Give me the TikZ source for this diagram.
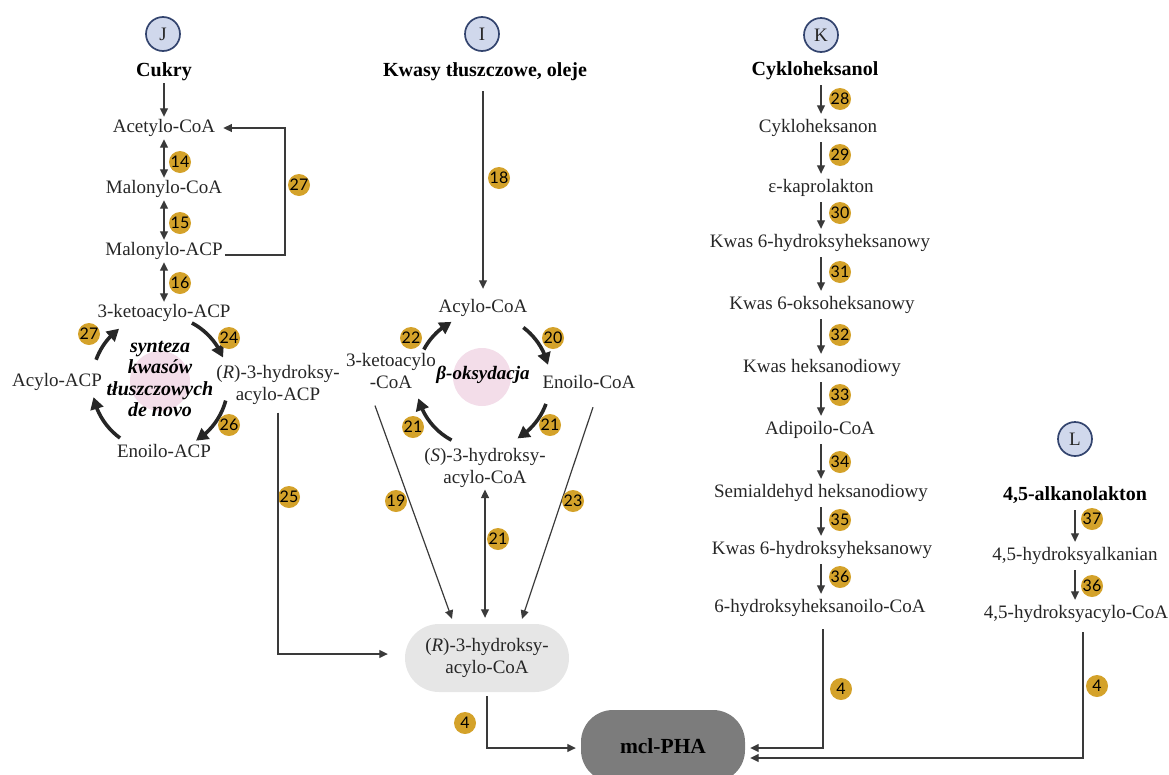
\documentclass[tikz,border=0pt]{standalone}
\usepackage{fontspec}
\setmainfont{Liberation Serif}
\newfontfamily\badgefont{Lato}
\usetikzlibrary{arrows.meta,bending,calc}
\definecolor{txt}{HTML}{262626}
\definecolor{ln}{HTML}{3A3A3A}
\definecolor{gold}{HTML}{D4A22A}
\definecolor{lblfill}{HTML}{D0D8EC}
\definecolor{lbldraw}{HTML}{33446E}
\definecolor{pinkc}{HTML}{F3DDE9}
\definecolor{boxgray}{HTML}{E6E6E6}
\definecolor{phagray}{HTML}{7C7C7C}
\definecolor{cycc}{HTML}{262626}
\newcommand{\mfs}{\fontsize{19}{21.5}\selectfont}
\newcommand{\bfs}{\fontsize{20}{21.5}\selectfont}
\begin{document}
\begin{tikzpicture}[x=1pt,y=-1pt,
  every node/.style={text=txt},
  met/.style={font=\mfs, inner sep=2pt, text height=13.5pt, text depth=4.5pt},
  mettwo/.style={font=\mfs, inner sep=2pt, align=center},
  src/.style={font=\bfseries\bfs, text=black, inner sep=2pt, text height=13.5pt, text depth=4.5pt},
  badge/.style={circle, fill=gold, inner sep=0pt, minimum size=22pt, font=\badgefont\fontsize{16}{16}\selectfont, text=black},
  pathlbl/.style={circle, fill=lblfill, draw=lbldraw, line width=1.7pt, minimum size=34pt, inner sep=0pt, font=\mfs, text=txt},
  arr/.style={draw=ln, line width=1.2pt, -{Triangle[length=8.5pt,width=8pt]}},
  darr/.style={draw=ln, line width=1.2pt, {Triangle[length=8.5pt,width=8pt]}-{Triangle[length=8.5pt,width=8pt]}},
  cyc/.style={draw=cycc, line width=3.6pt, -{Triangle[length=12pt,width=13pt]}},
  cyctext/.style={font=\bfseries\itshape\bfs, text=black, align=center, inner sep=0pt},
]
\useasboundingbox (0,0) rectangle (1169,774);
\clip (0,0) rectangle (1169,774);
\coordinate (c1) at (160,383);
\coordinate (c2) at (483,381);
\coordinate (p1) at (160,381);
\coordinate (p2) at (482,377);
\fill[pinkc] (p1) circle[radius=30];
\fill[pinkc] (p2) circle[radius=29];

% ---------- J column ----------
\node[pathlbl] (J) at (163,34) {J};
\node[src] (cukry) at (164,72) {Cukry};
\node[met] (acoa) at (164,128) {Acetylo-CoA};
\node[met] (mcoa) at (164,189) {Malonylo-CoA};
\node[met] (macp) at (164,251) {Malonylo-ACP};
\node[met] (kacp) at (164,313) {3-ketoacylo-ACP};
\node[met] (aacp) at (57,382) {Acylo-ACP};
\node[met] (eacp) at (164,453) {Enoilo-ACP};
\node[mettwo] (racp) at (278,385) {(\textit{R})-3-hydroksy-\\acylo-ACP};
\node[cyctext] (fas) at (160,379) {synteza\\kwasów\\tłuszczowych\\de novo};

\draw[arr] (cukry) -- (acoa);
\draw[darr] (acoa) -- (mcoa);
\draw[darr] (mcoa) -- (macp);
\draw[darr] (macp) -- (kacp);
\coordinate (fb) at (285,190);
\draw[arr] ([yshift=-4pt]macp.east) -| (fb) |- ([xshift=6pt]acoa.east);

\draw[cyc] ($(c1)+(-62:68)$) arc[start angle=-62, end angle=-22, radius=68];
\draw[cyc] ($(c1)+(15:68)$) arc[start angle=15, end angle=58, radius=68];
\draw[cyc] ($(c1)+(126:68)$) arc[start angle=126, end angle=168, radius=68];
\draw[cyc] ($(c1)+(-160:68)$) arc[start angle=-160, end angle=-127, radius=68];

\node[badge] (b14) at (180,162) {14};
\node[badge] (b15) at (180,223) {15};
\node[badge] (b16) at (180,283) {16};
\node[badge] (b27a) at (299,185) {27};
\node[badge] (b24) at (229,338) {24};
\node[badge] (b26) at (229,425) {26};
\node[badge] (b27b) at (89,334) {27};
\node[badge] (b25) at (289,497) {25};

% ---------- I column ----------
\node[pathlbl] (I) at (482,34) {I};
\node[src] (fat) at (485,72) {Kwasy tłuszczowe, oleje};
\node[met] (acoaI) at (483,308) {Acylo-CoA};
\node[mettwo] (kcoa) at (391,371) {3-ketoacylo\\-CoA};
\node[met] (ecoa) at (589,384) {Enoilo-CoA};
\node[mettwo] (scoa) at (485,468) {(\textit{S})-3-hydroksy-\\acylo-CoA};
\node[cyctext, font=\bfseries\itshape\mfs] (beta) at (483,375) {β-oksydacja};
\node[mettwo, fill=boxgray, rounded corners=34pt, minimum width=164pt, minimum height=68pt] (rbox) at (487,658) {(\textit{R})-3-hydroksy-\\acylo-CoA};
\node[fill=phagray, rounded corners=32pt, minimum width=164pt, minimum height=72pt, font=\bfseries\fontsize{21.5}{24}\selectfont, text=black] (pha) at (663,746) {mcl-PHA};

\draw[arr, shorten <=8pt, shorten >=8pt] (acoaI |- fat.south) -- (acoaI);
\draw[cyc] ($(c2)+(-53:67)$) arc[start angle=-53, end angle=-14, radius=67];
\draw[cyc] ($(c2)+(20:67)$) arc[start angle=20, end angle=59, radius=67];
\draw[cyc] ($(c2)+(118:67)$) arc[start angle=118, end angle=165, radius=67];
\draw[cyc] ($(c2)+(-152:67)$) arc[start angle=-152, end angle=-118, radius=67];

\draw[arr] ($(kcoa.south)+(-16,15)$) -- ($(rbox.north)+(-35,-5)$);
\draw[arr] ($(ecoa.south)+(4,12)$) -- ($(rbox.north)+(35,-5)$);
\draw[darr, shorten >=6pt] (scoa.south) -- (scoa.south |- rbox.north);
\draw[arr, shorten <=6pt, shorten >=17pt] (racp.south) |- ([yshift=4pt]rbox.west);
\draw[arr, shorten <=4pt, shorten >=5pt] (rbox.south) |- ([yshift=-2pt]pha.west);

\node[badge] (b18) at (499,178) {18};
\node[badge] (b20) at (553,338) {20};
\node[badge] (b21a) at (550,425) {21};
\node[badge] (b21b) at (413,427) {21};
\node[badge] (b22) at (411,338) {22};
\node[badge] (b19) at (396,501) {19};
\node[badge] (b23) at (573,501) {23};
\node[badge] (b21c) at (498,539) {21};
\node[badge] (b4a) at (465,723) {4};

% ---------- K column ----------
\coordinate (kx) at (821,0);
\node[pathlbl] (K) at (821,35) {K};
\node[src] (k1) at (815,71) {Cykloheksanol};
\node[met] (k2) at (818,128) {Cykloheksanon};
\node[met] (k3) at (821,188) {ε-kaprolakton};
\node[met] (k4) at (820,243) {Kwas 6-hydroksyheksanowy};
\node[met] (k5) at (822,305) {Kwas 6-oksoheksanowy};
\node[met] (k6) at (822,368) {Kwas heksanodiowy};
\node[met] (k7) at (820,430) {Adipoilo-CoA};
\node[met] (k8) at (821,493) {Semialdehyd heksanodiowy};
\node[met] (k9) at (822,550) {Kwas 6-hydroksyheksanowy};
\node[met] (k10) at (820,608) {6-hydroksyheksanoilo-CoA};

\foreach \a/\b in {k1/k2,k2/k3,k3/k4,k4/k5,k5/k6,k6/k7,k7/k8,k8/k9,k9/k10}
  \draw[arr, shorten <=3pt, shorten >=3pt] (\a.south -| kx) -- (\b.north -| kx);
\draw[arr, shorten <=10pt, shorten >=5pt] ([xshift=3pt]k10.south) |- ([yshift=-2pt]pha.east);

\node[badge] (b28) at (840,99) {28};
\node[badge] (b29) at (840,155) {29};
\node[badge] (b30) at (840,213) {30};
\node[badge] (b31) at (840,272) {31};
\node[badge] (b32) at (840,335) {32};
\node[badge] (b33) at (840,395) {33};
\node[badge] (b34) at (840,462) {34};
\node[badge] (b35) at (840,520) {35};
\node[badge] (b36) at (840,577) {36};
\node[badge] (b4b) at (841,689) {4};

% ---------- L column ----------
\node[pathlbl] (L) at (1075,439) {L};
\node[src] (l1) at (1075,496) {4,5-alkanolakton};
\node[met] (l2) at (1075,556) {4,5-hydroksyalkanian};
\node[met] (l3) at (1076,614) {4,5-hydroksyacylo-CoA};
\draw[arr, shorten <=3pt, shorten >=3pt] (l1) -- (l2);
\draw[arr, shorten <=3pt, shorten >=3pt] (l2.south) -- (l2.south |- l3.north);
\draw[arr, shorten <=7pt, shorten >=5pt] ([xshift=7pt]l3.south) |- ([yshift=-12pt]pha.east);

\node[badge] (b37) at (1092,519) {37};
\node[badge] (b36b) at (1092,586) {36};
\node[badge] (b4c) at (1097,686) {4};
\end{tikzpicture}
\end{document}
